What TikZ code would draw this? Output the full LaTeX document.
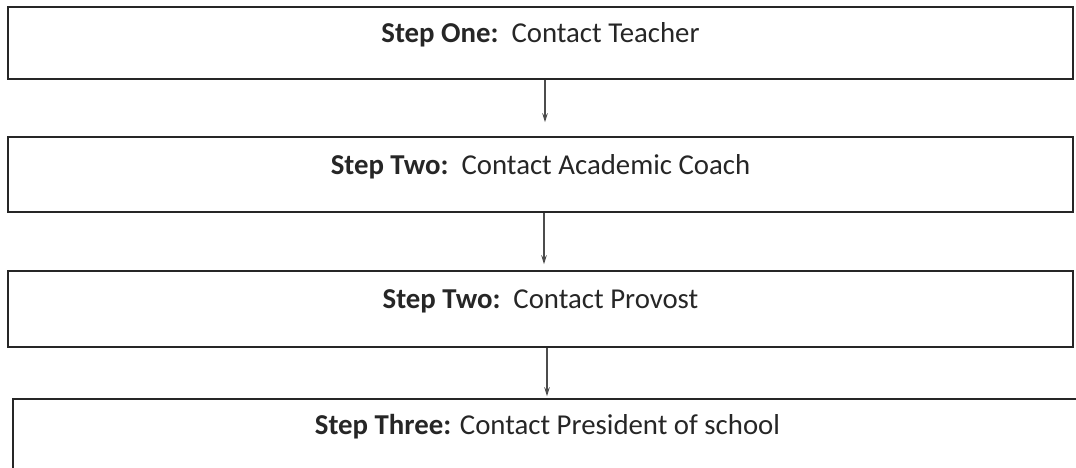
\documentclass[tikz,border=0pt]{standalone}
\usepackage{fontspec}
\setmainfont{Carlito}
\usepackage{tikz}
\usetikzlibrary{arrows.meta}

\begin{document}
\begin{tikzpicture}[x=1pt, y=1pt]
        \useasboundingbox (0,0) rectangle (1076,468);
        \tikzset{every node/.style={rectangle, draw=black!85, line width=1.5pt, inner sep=0pt,
            text height=10pt, text depth=10pt, text=black!85,
            font=\fontsize{28.8}{32}\selectfont}}
        \node[minimum width=1065pt, minimum height=72pt] (stepone) at (540.5, 425) {\textbf{Step One:}\ \ Contact Teacher};
        \node[minimum width=1065pt, minimum height=75pt] (steptwo) at (540.5, 293.5) {\textbf{Step Two:}\ \ Contact Academic Coach};
        \node[minimum width=1065pt, minimum height=76pt] (provost) at (540.5, 159) {\textbf{Step Two:}\ \ Contact Provost};
        \node[minimum width=1069pt, minimum height=71pt] (stepthree) at (547.5, 33.5) {\textbf{Step Three:} Contact President of school};
        % arrows between the steps
        \tikzset{mystyle/.style={-{Stealth[length=9pt, width=5.5pt]}, draw=black!70, line width=1.2pt}};
        \path ([xshift=4.5pt]stepone.south) edge [mystyle, shorten >=14pt] ([xshift=4.5pt]stepone.south |- steptwo.north);
        \path ([xshift=3.5pt]steptwo.south) edge [mystyle, shorten >=6pt] ([xshift=3.5pt]steptwo.south |- provost.north);
        \path ([xshift=6.5pt]provost.south) edge [mystyle, shorten >=2pt] ([xshift=6.5pt]provost.south |- stepthree.north);
      \end{tikzpicture}
\end{document}
